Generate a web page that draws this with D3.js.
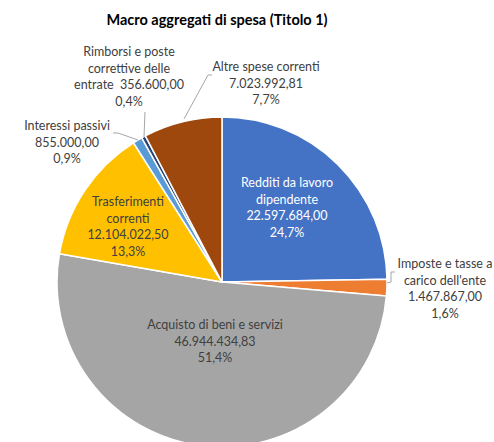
<!DOCTYPE html>
<html>
<head>
<meta charset="utf-8">
<script src="https://cdn.jsdelivr.net/npm/d3@7"></script>
<style>
  body { margin: 0; background: #fff; }
  svg { display: block; font-family: Lato, "Open Sans", sans-serif; }
  text { white-space: pre; }
</style>
</head>
<body>
<div class="chart"></div>
<script>
const categories = [
  "Redditi da lavoro dipendente",
  "Imposte e tasse a carico dell'ente",
  "Acquisto di beni e servizi",
  "Trasferimenti correnti",
  "Interessi passivi",
  "Rimborsi e poste correttive delle entrate",
  "Altre spese correnti"
];
const values = [22597684.00, 1467867.00, 46944434.83, 12104022.50, 855000.00, 356600.00, 7023992.81];
const labelLines = [
  ["Redditi da lavoro", "dipendente"],
  ["Imposte e tasse a", "carico dell'ente"],
  ["Acquisto di beni e servizi"],
  ["Trasferimenti", "correnti"],
  ["Interessi passivi"],
  ["Rimborsi e poste", "correttive delle", "entrate  {v}"],
  ["Altre spese correnti"]
];
const colors = ["#4472C4", "#ED7D31", "#A5A5A5", "#FFC000", "#5B9BD5", "#264478", "#9E480E"];

const w = 494, h = 442;
const cx = 222, cy = 282, r = 165;

const total = d3.sum(values);
const it = d3.formatLocale({decimal: ",", thousands: ".", grouping: [3], currency: ["", "€"]});
const fmtVal = it.format(",.2f");
const fmtPct = it.format(".1%");

const svg = d3.select(".chart").append("svg")
  .attr("width", w).attr("height", h).attr("viewBox", [0, 0, w, h]);

svg.append("text")
  .attr("x", 217).attr("y", 25)
  .attr("text-anchor", "middle")
  .attr("font-size", 14.5).attr("font-weight", "bold")
  .attr("fill", "#000")
  .text("Macro aggregati di spesa (Titolo 1)");

const pie = d3.pie().sort(null).value(d => d)(values);
const arc = d3.arc().innerRadius(0).outerRadius(r);

const g = svg.append("g").attr("transform", `translate(${cx},${cy})`);
g.selectAll("path.slice")
  .data(pie)
  .join("path")
  .attr("class", "slice")
  .attr("d", arc)
  .attr("fill", (d, i) => colors[i])
  .attr("stroke", "#fff")
  .attr("stroke-width", 1.5)
  .attr("stroke-linejoin", "round");

// label placement (relative to pie centre) : [x, y of first line, text colour]
const labelPos = [
  [65, -95, "#fff"],
  [223, -14, "#404040"],
  [-7, 47, "#404040"],
  [-94, -76, "#404040"],
  [-155, -152, "#404040"],
  [-93, -226, "#404040"],
  [44, -211, "#404040"]
];
// leader lines for outside labels (relative to pie centre)
const leaders = [
  null,
  [[173, -10], [169, -10], [169, 0], [165, 1]],
  null, null,
  [[-109, -149], [-104, -149], [-84, -142]],
  [[-77, -170], [-78, -145]],
  [[-10, -207], [-14, -207], [-38, -163]]
];

g.selectAll("path.leader")
  .data(leaders.filter(d => d))
  .join("path")
  .attr("class", "leader")
  .attr("d", d => d3.line()(d))
  .attr("fill", "none")
  .attr("stroke", "#a6a6a6")
  .attr("stroke-width", 1);

const lh = 16.5;
pie.forEach((d, i) => {
  const lines = labelLines[i].map(s => s.replace("{v}", fmtVal(values[i])));
  if (!labelLines[i].some(s => s.includes("{v}"))) lines.push(fmtVal(values[i]));
  lines.push(fmtPct(values[i] / total));
  const [lx, ly, col] = labelPos[i];
  const t = g.append("text")
    .attr("text-anchor", "middle")
    .attr("font-size", 12.5)
    .attr("fill", col);
  lines.forEach((s, j) => {
    t.append("tspan").attr("x", lx).attr("y", ly + j * lh).text(s);
  });
});
</script>
</body>
</html>
